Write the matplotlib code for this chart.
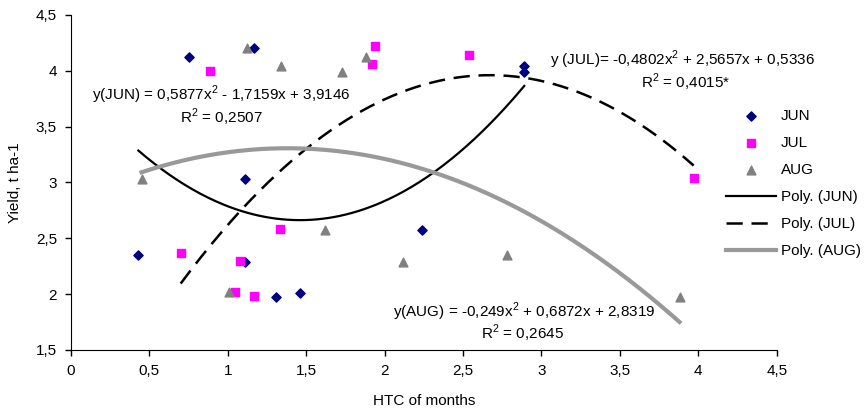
import numpy as np
import matplotlib
matplotlib.use("Agg")
import matplotlib.pyplot as plt
from matplotlib.ticker import FuncFormatter

plt.rcParams['font.family'] = ['Liberation Sans', 'DejaVu Sans']
plt.rcParams['font.size'] = 11

# HTC of months vs yield, t/ha
jun_x = [0.75, 1.17, 1.11, 0.43, 1.11, 1.31, 1.46, 2.24, 2.89, 2.89]
jun_y = [4.12, 4.20, 3.03, 2.35, 2.29, 1.97, 2.01, 2.57, 4.04, 3.99]
jul_x = [0.885, 1.94, 1.92, 2.54, 0.70, 1.08, 1.045, 1.17, 1.33, 3.97]
jul_y = [4.00, 4.22, 4.06, 4.14, 2.37, 2.30, 2.02, 1.98, 2.58, 3.04]
aug_x = [0.45, 1.12, 1.34, 1.73, 1.88, 1.62, 1.01, 2.12, 2.78, 3.88]
aug_y = [3.03, 4.20, 4.04, 3.99, 4.12, 2.57, 2.02, 2.29, 2.35, 1.97]

# trend line coefficients as printed on the chart (a, b, c)
jun_coef = [0.5877, -1.7159, 3.9146]
jul_coef = [-0.4802, 2.5657, 0.5336]
aug_coef = [-0.249, 0.6872, 2.8319]

fig = plt.figure(figsize=(8.65, 4.16), dpi=100)
ax = fig.add_axes([0.082, 0.159, 0.816, 0.805])

ax.scatter(jun_x, jun_y, marker='D', s=22, color='#000080', label='JUN', zorder=3)
ax.scatter(jul_x, jul_y, marker='s', s=30, color='#FF00FF', label='JUL', zorder=3)
ax.scatter(aug_x, aug_y, marker='^', s=40, color='#808080', label='AUG', zorder=3)


def trend(xs, coef):
    t = np.linspace(min(xs), max(xs), 200)
    return t, np.polyval(coef, t)


t, y = trend(jun_x, jun_coef)
ax.plot(t, y, color='black', lw=1.6, label='Poly. (JUN)')
t, y = trend(jul_x, jul_coef)
ax.plot(t, y, color='black', lw=1.8, dashes=(6.5, 3.5), label='Poly. (JUL)')
t, y = trend(aug_x, aug_coef)
ax.plot(t, y, color='#999999', lw=3, label='Poly. (AUG)')

sq = '$^\\mathregular{2}$'
ax.text(0.96, 3.78, 'y(JUN) = 0,5877x' + sq + ' - 1,7159x + 3,9146', ha='center', va='center')
ax.text(0.96, 3.585, 'R' + sq + ' = 0,2507', ha='center', va='center')
ax.text(3.90, 4.10, 'y (JUL)= -0,4802x' + sq + ' + 2,5657x + 0,5336', ha='center', va='center')
ax.text(3.92, 3.90, 'R' + sq + ' = 0,4015*', ha='center', va='center')
ax.text(2.89, 1.84, 'y(AUG) = -0,249x' + sq + ' + 0,6872x + 2,8319', ha='center', va='center')
ax.text(2.88, 1.645, 'R' + sq + ' = 0,2645', ha='center', va='center')

ax.set_xlim(0, 4.5)
ax.set_ylim(1.5, 4.5)
ax.set_xticks(np.arange(0, 4.51, 0.5))
ax.set_yticks(np.arange(1.5, 4.51, 0.5))
fmt = FuncFormatter(lambda v, p: ('%g' % v).replace('.', ','))
ax.xaxis.set_major_formatter(fmt)
ax.yaxis.set_major_formatter(fmt)
ax.tick_params(direction='out', length=4, width=1, pad=6)
for s in ['top', 'right']:
    ax.spines[s].set_visible(False)

ax.set_xlabel('HTC of months', labelpad=12)
ax.set_ylabel('Yield, t ha-1', labelpad=10)

leg = fig.legend(loc='upper left', bbox_to_anchor=(0.823, 0.771), frameon=False,
                 handlelength=3.3, labelspacing=0.85, handletextpad=0.3)

fig.savefig('out.png', dpi=100)
